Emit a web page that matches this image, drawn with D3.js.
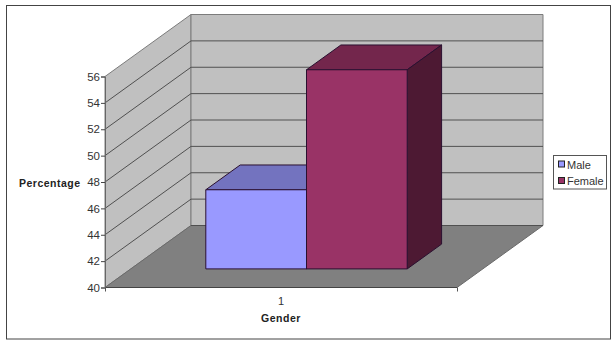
<!DOCTYPE html>
<html>
<head>
<meta charset="utf-8">
<script src="https://cdn.jsdelivr.net/npm/d3@7/dist/d3.min.js"></script>
<style>
  html, body { margin: 0; padding: 0; background: #fff; }
  svg { display: block; }
  text { font-family: "Liberation Sans", Arial, sans-serif; }
</style>
</head>
<body>
<svg id="chart" width="615" height="346"></svg>
<script>
// Chart values
const categories = ["1"];
const seriesNames = ["Male", "Female"];
const seriesValues = [46, 55.1];
const tickValues = [40, 42, 44, 46, 48, 50, 52, 54, 56];
const seriesColors = ["#9999FF", "#993366"];
const topColors = ["#7373BF", "#73264C"];
const sideColors = ["#4D4D80", "#4D1933"];

const svg = d3.select("#chart");

// Front plane of the 3D box, plus the oblique offset of its full depth
const y = d3.scaleLinear().domain([40, 56]).range([287.5, 76.5]);
const x = d3.scalePoint().domain([0, 1]).range([105, 457]);
const depthX = d3.scaleLinear().domain([0, 1]).range([0, 86]);
const depthY = d3.scaleLinear().domain([0, 1]).range([0, -62]);
const project = (px, value, depth) => [px + depthX(depth), y(value) + depthY(depth)];
const [vMin, vMax] = y.domain();
const path = pts => "M" + pts.map(p => p.join(",")).join("L") + "Z";

const lineColor = "#505050";
const edgeColor = "#7c7c7c";

// Chart area border
svg.append("rect").attr("x", 6.5).attr("y", 5.5).attr("width", 604).attr("height", 333.5)
  .attr("fill", "#fff").attr("stroke", "#444").attr("stroke-width", 1);

const left = x(0), right = x(1);

// Side wall, back wall, floor
svg.append("path")
  .attr("d", path([project(left, vMin, 0), project(left, vMax, 0), project(left, vMax, 1), project(left, vMin, 1)]))
  .attr("fill", "#C0C0C0").attr("stroke", edgeColor);
svg.append("path")
  .attr("d", path([project(left, vMin, 1), project(left, vMax, 1), project(right, vMax, 1), project(right, vMin, 1)]))
  .attr("fill", "#C0C0C0").attr("stroke", edgeColor);
svg.append("path")
  .attr("d", path([project(left, vMin, 0), project(right, vMin, 0), project(right, vMin, 1), project(left, vMin, 1)]))
  .attr("fill", "#808080").attr("stroke", "#6a6a6a");

// Gridlines on both walls
tickValues.slice(1, -1).forEach(v => {
  svg.append("path").attr("fill", "none").attr("stroke", lineColor).attr("stroke-width", 1)
    .attr("d", d3.line()([project(left, v, 0), project(left, v, 1), project(right, v, 1)]));
});
svg.append("path").attr("fill", "none").attr("stroke", "#444")
  .attr("d", d3.line()([project(left, vMin, 0), project(right, vMin, 0)]));
svg.append("path").attr("fill", "none").attr("stroke", lineColor)
  .attr("d", d3.line()([project(left, vMin, 1), project(right, vMin, 1)]));

// Bars: a front face, a top face and a right side, sitting part way into the depth
const barStart = 0.3, barEnd = 0.7;
const barPlot = d3.scaleBand().domain(seriesNames).range([180, 381.4]);
const barBase = y(vMin) + depthY(barStart);
const yBar = v => barBase - (y(vMin) - y(v));

seriesNames.forEach((name, i) => {
  const x0 = barPlot(name), x1 = x0 + barPlot.bandwidth();
  const pt = (px, value, d) => [px + depthX(d), yBar(value) + depthY(d - barStart)];
  const v = seriesValues[i];
  const g = svg.append("g").attr("stroke", "#2a1030").attr("stroke-width", 1).attr("stroke-linejoin", "round");
  g.append("path").attr("fill", topColors[i])
    .attr("d", path([pt(x0, v, barStart), pt(x0, v, barEnd), pt(x1, v, barEnd), pt(x1, v, barStart)]));
  g.append("path").attr("fill", sideColors[i])
    .attr("d", path([pt(x1, vMin, barStart), pt(x1, v, barStart), pt(x1, v, barEnd), pt(x1, vMin, barEnd)]));
  g.append("path").attr("fill", seriesColors[i])
    .attr("d", path([pt(x0, vMin, barStart), pt(x0, v, barStart), pt(x1, v, barStart), pt(x1, vMin, barStart)]));
});

// Value axis
const yAxis = svg.append("g").attr("transform", `translate(${left},0)`)
  .call(d3.axisLeft(y).tickValues(tickValues).tickSize(4).tickPadding(1));
yAxis.select(".domain").attr("stroke", "#666");
yAxis.selectAll(".tick line").attr("stroke", "#444");
yAxis.selectAll("text").attr("font-size", 11.5).attr("fill", "#333")
  .style("font-family", '"Liberation Sans", Arial, sans-serif');

// Category axis: ticks at the ends of the floor, label in the middle
const xAxisY = y(vMin);
const xAxis = svg.append("g").attr("transform", `translate(0,${xAxisY})`)
  .call(d3.axisBottom(x).tickValues([0, 1]).tickFormat("").tickSize(4));
xAxis.select(".domain").attr("stroke", "none");
xAxis.selectAll(".tick line").attr("stroke", "#555");
svg.append("text").attr("x", (left + right) / 2).attr("y", 305).attr("text-anchor", "middle")
  .attr("font-size", 11).attr("fill", "#333").text(categories[0]);

// Axis titles
svg.append("text").attr("x", 19).attr("y", 186.5).attr("font-size", 10.5).attr("font-weight", "bold")
  .attr("letter-spacing", 0.5).attr("fill", "#222").text("Percentage");
svg.append("text").attr("x", 281).attr("y", 322).attr("text-anchor", "middle").attr("font-size", 10.5)
  .attr("font-weight", "bold").attr("letter-spacing", 0.5).attr("fill", "#222").text("Gender");

// Legend
const legend = svg.append("g");
legend.append("rect").attr("x", 553.5).attr("y", 155.5).attr("width", 53).attr("height", 33.5)
  .attr("fill", "#fff").attr("stroke", "#555");
seriesNames.forEach((name, i) => {
  const rowY = 164.5 + i * 16.5;
  legend.append("rect").attr("x", 558.5).attr("y", rowY - 3.5).attr("width", 6).attr("height", 6)
    .attr("fill", seriesColors[i]).attr("stroke", "#222");
  legend.append("text").attr("x", 567).attr("y", rowY + 4).attr("font-size", 11)
    .attr("fill", "#333").text(name);
});
</script>
</body>
</html>
